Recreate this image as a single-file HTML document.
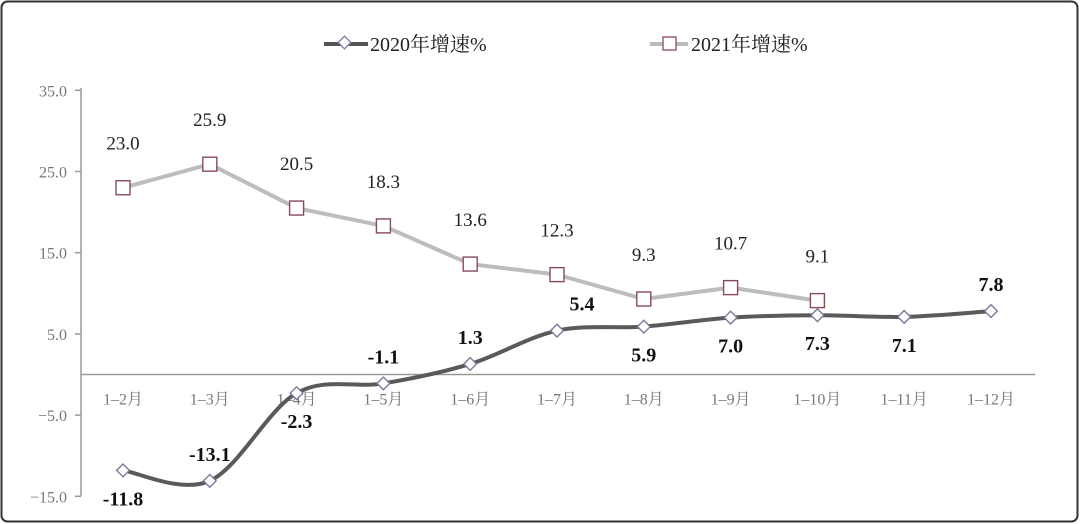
<!DOCTYPE html>
<html><head><meta charset="utf-8"><style>
body{margin:0;background:#fff;}
svg{display:block;font-family:"Liberation Serif","Noto Serif CJK SC",serif;}
</style></head><body>
<svg width="1080" height="524">
<rect x="1.5" y="1.5" width="1076" height="520" rx="6" fill="#fff" stroke="#333" stroke-width="2"/>
<g>
 <g>
  <line x1="324" y1="44" x2="368" y2="44" stroke="#555" stroke-width="4"/>
  <rect x="340" y="38" width="9" height="9" transform="rotate(45 344.5 42.5)" fill="#fff" stroke="#7a7a9a" stroke-width="1.3"/>
  <text x="370" y="51" font-size="20" fill="#222">2020年增速%</text>
 </g>
 <g>
  <line x1="650" y1="44" x2="688" y2="44" stroke="#bbb" stroke-width="4"/>
  <rect x="663" y="37" width="13" height="13" fill="#fff" stroke="#8a4a5a" stroke-width="1.3"/>
  <text x="691" y="51" font-size="20" fill="#222">2021年增速%</text>
 </g>
</g>
<g id="axes"></g>
<g id="series"></g>
</svg>
<script>
const categories=["1–2月","1–3月","1–4月","1–5月","1–6月","1–7月","1–8月","1–9月","1–10月","1–11月","1–12月"];
const values2020=[-11.8,-13.1,-2.3,-1.1,1.3,5.4,5.9,7.0,7.3,7.1,7.8];
const values2021=[23.0,25.9,20.5,18.3,13.6,12.3,9.3,10.7,9.1];
const yTicks=[35,25,15,5,-5,-15];
const labelSide2020=["below","above","below","above","above","above","below","below","below","below","above"];
const NS="http://www.w3.org/2000/svg";
const x=i=>123+i*86.8;
const y=v=>374.5-v*8.12;
function el(t,a,p){const e=document.createElementNS(NS,t);for(const k in a)e.setAttribute(k,a[k]);p.appendChild(e);return e;}
const axes=document.getElementById('axes'),ser=document.getElementById('series');
const ya=el('line',{x1:81,y1:88,x2:81,y2:y(-15),stroke:'#999','stroke-width':1.5},axes);


const xa=el('line',{x1:81,y1:y(0),x2:1035,y2:y(0),stroke:'#999','stroke-width':1.5},axes);


yTicks.forEach(v=>{
 const tk=el('line',{x1:75,y1:y(v),x2:81,y2:y(v),stroke:'#999','stroke-width':1.5},axes);
 
 
 const t=el('text',{x:67,y:y(v)+6,'text-anchor':'end','font-size':16,fill:'#777'},axes);
 t.textContent=(v<0?'−':'')+Math.abs(v).toFixed(1);
 
 
});
categories.forEach((c,i)=>{
 const t=el('text',{x:x(i),y:y(0)+30,'text-anchor':'middle','font-size':16,fill:'#777'},axes);
 t.textContent=c;
 
 
});
function smooth(pts){let d=`M${pts[0][0]},${pts[0][1]}`;for(let i=0;i<pts.length-1;i++){const p0=pts[i-1]||pts[i],p1=pts[i],p2=pts[i+1],p3=pts[i+2]||p2;const c1=[p1[0]+(p2[0]-p0[0])/6,p1[1]+(p2[1]-p0[1])/6],c2=[p2[0]-(p3[0]-p1[0])/6,p2[1]-(p3[1]-p1[1])/6];d+=`C${c1[0]},${c1[1]} ${c2[0]},${c2[1]} ${p2[0]},${p2[1]}`;}return d;}
const p21=values2021.map((v,i)=>[x(i),y(v)]);
const l21=el('polyline',{points:p21.map(p=>p.join(',')).join(' '),fill:'none',stroke:'#bdbdbd','stroke-width':4,'stroke-linejoin':'round'},ser);


values2021.forEach((v,i)=>{
 const m=el('rect',{x:x(i)-7,y:y(v)-7,width:14,height:14,fill:'#fff',stroke:'#8a4a5a','stroke-width':1.4},ser);
 
 
 const t=el('text',{x:x(i),y:y(v)-38,'text-anchor':'middle','font-size':19,fill:'#222'},ser);
 t.textContent=v.toFixed(1);
 
 
});
const p20=values2020.map((v,i)=>[x(i),y(v)]);
const l20=el('path',{d:smooth(p20),fill:'none',stroke:'#5a5a5a','stroke-width':4},ser);


values2020.forEach((v,i)=>{
 const m=el('rect',{x:x(i)-4.5,y:y(v)-4.5,width:9,height:9,fill:'#fff',stroke:'#7a7a9a','stroke-width':1.4,transform:`rotate(45 ${x(i)} ${y(v)})`},ser);
 
 
 const below=labelSide2020[i]==='below';
 const t=el('text',{x:x(i)+(i===5?25:0),y:y(v)+(below?35:-20),'text-anchor':'middle','font-size':20,'font-weight':'bold',fill:'#111'},ser);
 t.textContent=v.toFixed(1);
 
 
});
</script>
</body></html>
